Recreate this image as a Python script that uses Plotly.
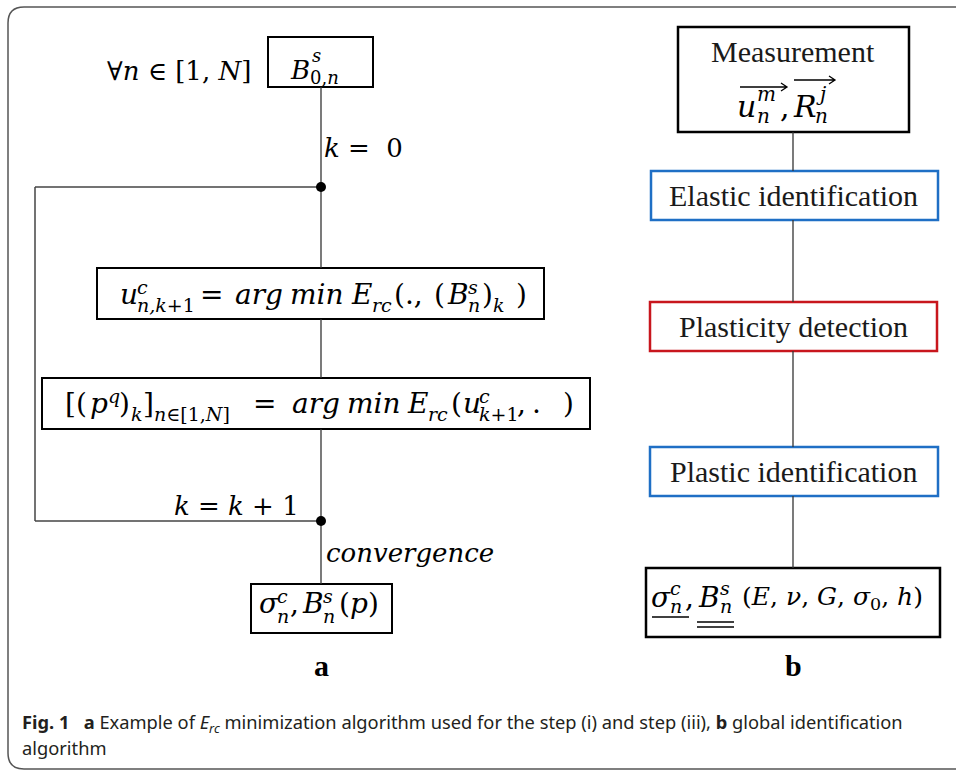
import plotly.graph_objects as go

# ---------------- texts (the "data" of this diagram) ----------------
quantifier = "∀<i>n</i> ∈ [1, <i>N</i>]"
k_init = "<i>k</i> =  0"
k_step = "<i>k</i> = <i>k</i> + 1"
conv_label = "<i>convergence</i>"
panel_letters = ["a", "b"]
b_titles = ["Measurement", "Elastic identification", "Plasticity detection", "Plastic identification"]
caption_lines = [
    "<b>Fig. 1</b>\u00a0\u00a0\u00a0<b>a</b> Example of <i>E<sub>rc</sub></i> minimization algorithm used for the step (i) and step (iii), <b>b</b> global identification",
    "algorithm",
]

# math expressions as runs of (text, role); role: m=main, p=superscript, b=subscript
expr_b0 = [("<i>B</i>", "m"), ("<i>s</i>", "p"), ("0,<i>n</i>", "b")]
expr_u = [("<i>u</i>", "m"), ("<i>c</i>", "p"), ("<i>n,k</i>+1", "b"), ("=", "m"),
          ("<i>arg</i>", "m"), ("<i>min</i>", "m"), ("<i>E</i>", "m"), ("<i>rc</i>", "b"),
          ("(.,", "m"), ("(", "m"), ("<i>B</i>", "m"), ("<i>s</i>", "p"), ("<i>n</i>", "b"),
          (")", "m"), ("<i>k</i>", "b"), (")", "m")]
expr_p = [("[(", "m"), ("<i>p</i>", "m"), ("<i>q</i>", "p"), (")", "m"), ("<i>k</i>", "b"),
          ("]", "m"), ("<i>n</i>∈[1,<i>N</i>]", "b"), ("=", "m"), ("<i>arg</i>", "m"),
          ("<i>min</i>", "m"), ("<i>E</i>", "m"), ("<i>rc</i>", "b"), ("(", "m"),
          ("<i>u</i>", "m"), ("<i>c</i>", "p"), ("<i>k</i>+1", "b"), (",", "m"), (".", "m"), (")", "m")]
expr_sig_a = [("<i>σ</i>", "m"), ("<i>c</i>", "p"), ("<i>n</i>", "b"), (",", "m"),
              ("<i>B</i>", "m"), ("<i>s</i>", "p"), ("<i>n</i>", "b"), ("(<i>p</i>)", "m")]
expr_meas = [("<i>u</i>", "m"), ("<i>m</i>", "p"), ("<i>n</i>", "b"), (",", "m"),
             ("<i>R</i>", "m"), ("<i>j</i>", "p"), ("<i>n</i>", "b")]
expr_sig_b = [("<i>σ</i>", "m"), ("<i>c</i>", "p"), ("<i>n</i>", "b"), (",", "m"),
              ("<i>B</i>", "m"), ("<i>s</i>", "p"), ("<i>n</i>", "b"),
              ("(<i>E</i>, <i>ν</i>, <i>G</i>, <i>σ</i><sub>0</sub>, <i>h</i>)", "m")]

# ---------------- layout geometry (pixels, y downward) ----------------
W, H = 956, 770
MATH = "DejaVu Serif"
SERIF = "Liberation Serif"
SANS = "Noto Sans"

shapes = []
annotations = []


def rect(x0, y0, x1, y1, color="black", width=2):
    shapes.append(dict(type="rect", x0=x0, y0=y0, x1=x1, y1=y1, xref="x", yref="y",
                       line=dict(color=color, width=width), fillcolor="rgba(0,0,0,0)", layer="above"))


def line(x0, y0, x1, y1, color="#333333", width=1.3):
    shapes.append(dict(type="line", x0=x0, y0=y0, x1=x1, y1=y1, xref="x", yref="y",
                       line=dict(color=color, width=width), layer="above"))


def dot(x, y, r=5):
    shapes.append(dict(type="circle", x0=x - r, y0=y - r, x1=x + r, y1=y + r, xref="x", yref="y",
                       line=dict(color="black", width=0), fillcolor="black", layer="above"))


def text(s, x, base, size, family=MATH, anchor="left", color="black"):
    annotations.append(dict(x=x, y=base - 0.33 * size, text=s, showarrow=False, xanchor=anchor,
                            yanchor="middle", borderpad=0, xref="x", yref="y",
                            font=dict(family=family, size=size, color=color)))


def math(runs, xs, base, size=28, sub_size=19, up=11, down=7):
    for (s, role), x in zip(runs, xs):
        if role == "m":
            text(s, x, base, size)
        elif role == "p":
            text(s, x, base - up, sub_size)
        else:
            text(s, x, base + down, sub_size)


# outer frame (rounded left corners)
shapes.append(dict(type="path", path="M 960,7 L 24,7 Q 8,7 8,23 L 8,753 Q 8,769 24,769 L 960,769",
                   xref="x", yref="y", line=dict(color="#555555", width=1.5)))

# ---------------- panel a ----------------
xa = 321
rect(268, 37, 373, 87)
rect(97, 268, 544, 319)
rect(42, 378, 590, 429)
rect(251, 584, 392, 633)
line(xa, 87, xa, 268)
line(xa, 319, xa, 378)
line(xa, 429, xa, 584)
# loop
line(xa, 187, 35, 187, color="#444444", width=1.5)
line(35, 187, 35, 521, color="#444444", width=1.5)
line(35, 521, xa, 521, color="#444444", width=1.5)
dot(xa, 187)
dot(xa, 521)

text(quantifier, 252, 80, 26, anchor="right")
math(expr_b0, [289, 311, 309], 79, size=26, sub_size=18, up=18, down=4)
text(k_init, 323, 157, 26)
math(expr_u, [119, 136, 136, 199, 234, 289, 350, 371, 393, 433, 446, 467, 467, 481, 492, 515], 304)
math(expr_p, [64, 89, 107, 118, 130, 142, 153, 252, 291, 346, 406, 427, 450, 462, 478, 478, 516, 531, 562], 413)
text(k_step, 300, 515, 26, anchor="right")
text(conv_label, 325, 562, 26)
math(expr_sig_a, [258, 276, 276, 289, 301, 322, 322, 338], 613, up=11, down=9)
text("<b>%s</b>" % panel_letters[0], xa, 675, 30, family=SERIF, anchor="center")

# ---------------- panel b ----------------
xb = 793
rect(678, 27, 909, 132, width=2.5)
rect(651, 171, 938, 220, color="#1f6fc5", width=2.5)
rect(650, 302, 937, 351, color="#c8161d", width=2.5)
rect(650, 447, 938, 496, color="#1f6fc5", width=2.5)
rect(646, 568, 940, 637, width=2.5)
line(xb, 132, xb, 171)
line(xb, 220, xb, 302)
line(xb, 351, xb, 447)
line(xb, 496, xb, 568)

text(b_titles[0], xb, 61, 30, family=SERIF, anchor="center", color="#1a1a1a")
math(expr_meas, [736, 756, 756, 779, 792, 815, 814], 116, size=30, sub_size=20, up=15, down=7)
# vector arrows over u and R
shapes.append(dict(type="path", path="M 740,87 L 787,87 M 781,83 L 787,87 L 781,91", xref="x", yref="y",
                   line=dict(color="black", width=1.3)))
shapes.append(dict(type="path", path="M 794,80 L 835,80 M 829,76 L 835,80 L 829,84", xref="x", yref="y",
                   line=dict(color="black", width=1.3)))
for t, yc in zip(b_titles[1:], [205, 336, 481]):
    text(t, xb, yc, 30, family=SERIF, anchor="center", color="#1a1a1a")

math(expr_sig_b, [650, 669, 669, 684, 697, 719, 719, 741], 607, size=28, sub_size=19, up=13, down=5)
annotations[-1]["font"]["size"] = 25
line(652, 617, 689, 617, color="black", width=1.3)
line(697, 622, 734, 622, color="black", width=1.3)
line(697, 627, 734, 627, color="black", width=1.3)
text("<b>%s</b>" % panel_letters[1], xb, 675, 30, family=SERIF, anchor="center")

# ---------------- caption ----------------
text(caption_lines[0], 21, 729, 18.3, family=SANS, color="#231f20")
text(caption_lines[1], 21, 754, 18.3, family=SANS, color="#231f20")

fig = go.Figure()
fig.update_layout(
    width=W, height=H, autosize=False,
    margin=dict(l=0, r=0, t=0, b=0),
    paper_bgcolor="white", plot_bgcolor="white",
    xaxis=dict(range=[0, W], visible=False, fixedrange=True),
    yaxis=dict(range=[H, 0], visible=False, fixedrange=True),
    shapes=shapes, annotations=annotations, showlegend=False,
)
fig.write_html("out.html", config={"displayModeBar": False},
               post_script="document.body.style.margin='0px';")
